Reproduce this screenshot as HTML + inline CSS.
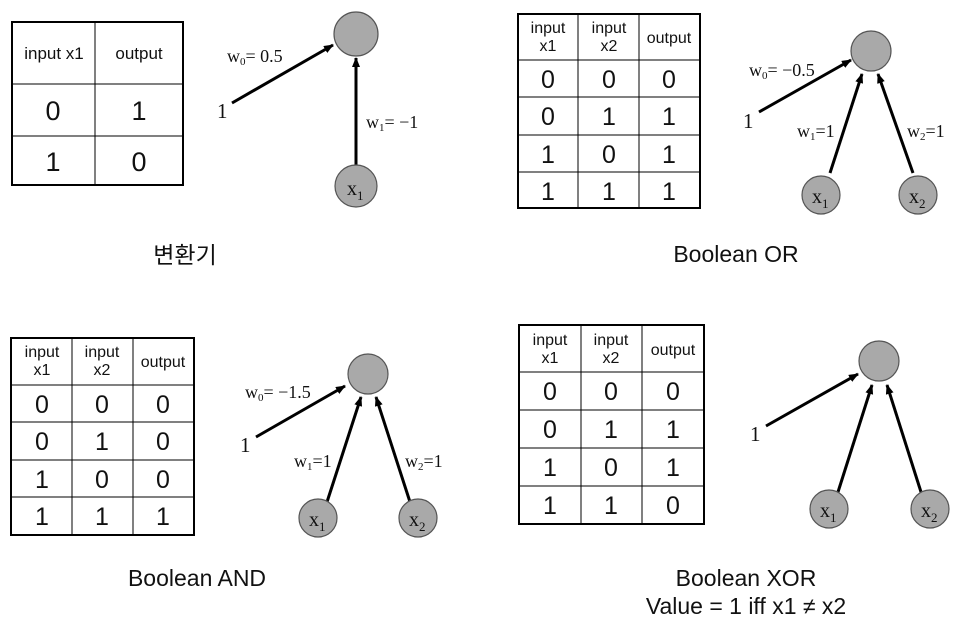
<!DOCTYPE html>
<html><head><meta charset="utf-8"><style>
html,body{margin:0;padding:0;background:#fff;}
svg{display:block;}
.t{font-family:"Liberation Sans",sans-serif;fill:#111;text-anchor:middle;}
.s{font-family:"Liberation Serif",serif;fill:#111;}
.c{font-family:"Liberation Sans","Noto Sans CJK KR",sans-serif;fill:#111;text-anchor:middle;}
</style></head><body>
<svg width="962" height="627" viewBox="0 0 962 627" xmlns="http://www.w3.org/2000/svg">
<defs><marker id="a" markerWidth="10" markerHeight="8" refX="9" refY="4" orient="auto" markerUnits="userSpaceOnUse"><path d="M0,0 L10,4 L0,8 Z" fill="#000"/></marker></defs>
<g stroke="#000" fill="none">
<rect x="12" y="22" width="171" height="163" stroke-width="2"/>
<line x1="95" y1="22" x2="95" y2="185"/><line x1="12" y1="84" x2="183" y2="84"/><line x1="12" y1="136" x2="183" y2="136"/>
<rect x="518" y="14" width="182" height="194" stroke-width="2"/>
<line x1="578" y1="14" x2="578" y2="208"/><line x1="639" y1="14" x2="639" y2="208"/>
<line x1="518" y1="60" x2="700" y2="60"/><line x1="518" y1="97" x2="700" y2="97"/><line x1="518" y1="135" x2="700" y2="135"/><line x1="518" y1="172" x2="700" y2="172"/>
<rect x="11" y="338" width="183" height="197" stroke-width="2"/>
<line x1="72" y1="338" x2="72" y2="535"/><line x1="133" y1="338" x2="133" y2="535"/>
<line x1="11" y1="385" x2="194" y2="385"/><line x1="11" y1="422" x2="194" y2="422"/><line x1="11" y1="460" x2="194" y2="460"/><line x1="11" y1="497" x2="194" y2="497"/>
<rect x="519" y="325" width="185" height="199" stroke-width="2"/>
<line x1="581" y1="325" x2="581" y2="524"/><line x1="642" y1="325" x2="642" y2="524"/>
<line x1="519" y1="372" x2="704" y2="372"/><line x1="519" y1="410" x2="704" y2="410"/><line x1="519" y1="448" x2="704" y2="448"/><line x1="519" y1="486" x2="704" y2="486"/>
</g>
<g class="t" font-size="17"><text x="54" y="59">input x1</text><text x="139" y="59">output</text></g>
<g class="t" font-size="27"><text x="53" y="120">0</text><text x="139" y="120">1</text><text x="53" y="171">1</text><text x="139" y="171">0</text></g>

<g class="t" font-size="16"><text x="548" y="33">input</text><text x="548" y="51">x1</text><text x="609" y="33">input</text><text x="609" y="51">x2</text><text x="669" y="43">output</text></g>
<g class="t" font-size="25"><text x="548" y="88">0</text><text x="609" y="88">0</text><text x="669" y="88">0</text>
<text x="548" y="125">0</text><text x="609" y="125">1</text><text x="669" y="125">1</text>
<text x="548" y="163">1</text><text x="609" y="163">0</text><text x="669" y="163">1</text>
<text x="548" y="200">1</text><text x="609" y="200">1</text><text x="669" y="200">1</text></g>

<g class="t" font-size="16"><text x="42" y="357">input</text><text x="42" y="375">x1</text><text x="102" y="357">input</text><text x="102" y="375">x2</text><text x="163" y="367">output</text></g>
<g class="t" font-size="25"><text x="42" y="413">0</text><text x="102" y="413">0</text><text x="163" y="413">0</text>
<text x="42" y="450">0</text><text x="102" y="450">1</text><text x="163" y="450">0</text>
<text x="42" y="488">1</text><text x="102" y="488">0</text><text x="163" y="488">0</text>
<text x="42" y="525">1</text><text x="102" y="525">1</text><text x="163" y="525">1</text></g>

<g class="t" font-size="16"><text x="550" y="345">input</text><text x="550" y="363">x1</text><text x="611" y="345">input</text><text x="611" y="363">x2</text><text x="673" y="355">output</text></g>
<g class="t" font-size="25"><text x="550" y="400">0</text><text x="611" y="400">0</text><text x="673" y="400">0</text>
<text x="550" y="438">0</text><text x="611" y="438">1</text><text x="673" y="438">1</text>
<text x="550" y="476">1</text><text x="611" y="476">0</text><text x="673" y="476">1</text>
<text x="550" y="514">1</text><text x="611" y="514">1</text><text x="673" y="514">0</text></g>

<g stroke="#000" stroke-width="3" fill="none" marker-end="url(#a)">
<line x1="232" y1="103" x2="333" y2="45"/><line x1="356" y1="165" x2="356" y2="58"/>
<line x1="759" y1="112" x2="851" y2="60"/><line x1="830" y1="173" x2="862" y2="74"/><line x1="913" y1="173" x2="878" y2="74"/>
<line x1="256" y1="437" x2="345" y2="386"/><line x1="327" y1="502" x2="361" y2="397"/><line x1="410" y1="502" x2="376" y2="397"/>
<line x1="766" y1="426" x2="858" y2="374"/><line x1="838" y1="492" x2="872" y2="385"/><line x1="921" y1="492" x2="887" y2="385"/>
</g>
<g fill="#a9a9a9" stroke="#555" stroke-width="1.2">
<circle cx="356" cy="34" r="22"/><circle cx="356" cy="186" r="21"/>
<circle cx="871" cy="51" r="20"/><circle cx="821" cy="195" r="19"/><circle cx="918" cy="195" r="19"/>
<circle cx="368" cy="374" r="20"/><circle cx="318" cy="518" r="19"/><circle cx="418" cy="518" r="19"/>
<circle cx="879" cy="361" r="20"/><circle cx="829" cy="509" r="19"/><circle cx="930" cy="509" r="19"/>
</g>
<g class="s" font-size="20">
<text x="347" y="195">x<tspan font-size="13" dy="5">1</tspan></text>
<text x="812" y="203">x<tspan font-size="13" dy="5">1</tspan></text><text x="909" y="203">x<tspan font-size="13" dy="5">2</tspan></text>
<text x="309" y="526">x<tspan font-size="13" dy="5">1</tspan></text><text x="409" y="526">x<tspan font-size="13" dy="5">2</tspan></text>
<text x="820" y="517">x<tspan font-size="13" dy="5">1</tspan></text><text x="921" y="517">x<tspan font-size="13" dy="5">2</tspan></text>
</g>
<g class="s" font-size="18">
<text x="227" y="62">w<tspan font-size="11" dy="3">0</tspan><tspan dy="-3">= 0.5</tspan></text>
<text x="366" y="128">w<tspan font-size="11" dy="3">1</tspan><tspan dy="-3">= −1</tspan></text>
<text x="749" y="76">w<tspan font-size="11" dy="3">0</tspan><tspan dy="-3">= −0.5</tspan></text>
<text x="797" y="137">w<tspan font-size="11" dy="3">1</tspan><tspan dy="-3">=1</tspan></text>
<text x="907" y="137">w<tspan font-size="11" dy="3">2</tspan><tspan dy="-3">=1</tspan></text>
<text x="245" y="398">w<tspan font-size="11" dy="3">0</tspan><tspan dy="-3">= −1.5</tspan></text>
<text x="294" y="467">w<tspan font-size="11" dy="3">1</tspan><tspan dy="-3">=1</tspan></text>
<text x="405" y="467">w<tspan font-size="11" dy="3">2</tspan><tspan dy="-3">=1</tspan></text>
</g>
<g class="s" font-size="21">
<text x="217" y="118">1</text><text x="743" y="128">1</text><text x="240" y="452">1</text><text x="750" y="441">1</text>
</g>
<g class="c" font-size="23">
<text x="185" y="263">변환기</text>
<text x="736" y="262">Boolean OR</text>
<text x="197" y="586">Boolean AND</text>
<text x="746" y="586">Boolean XOR</text>
<text x="746" y="614">Value = 1 iff x1 ≠ x2</text>
</g>
</svg>
</body></html>
